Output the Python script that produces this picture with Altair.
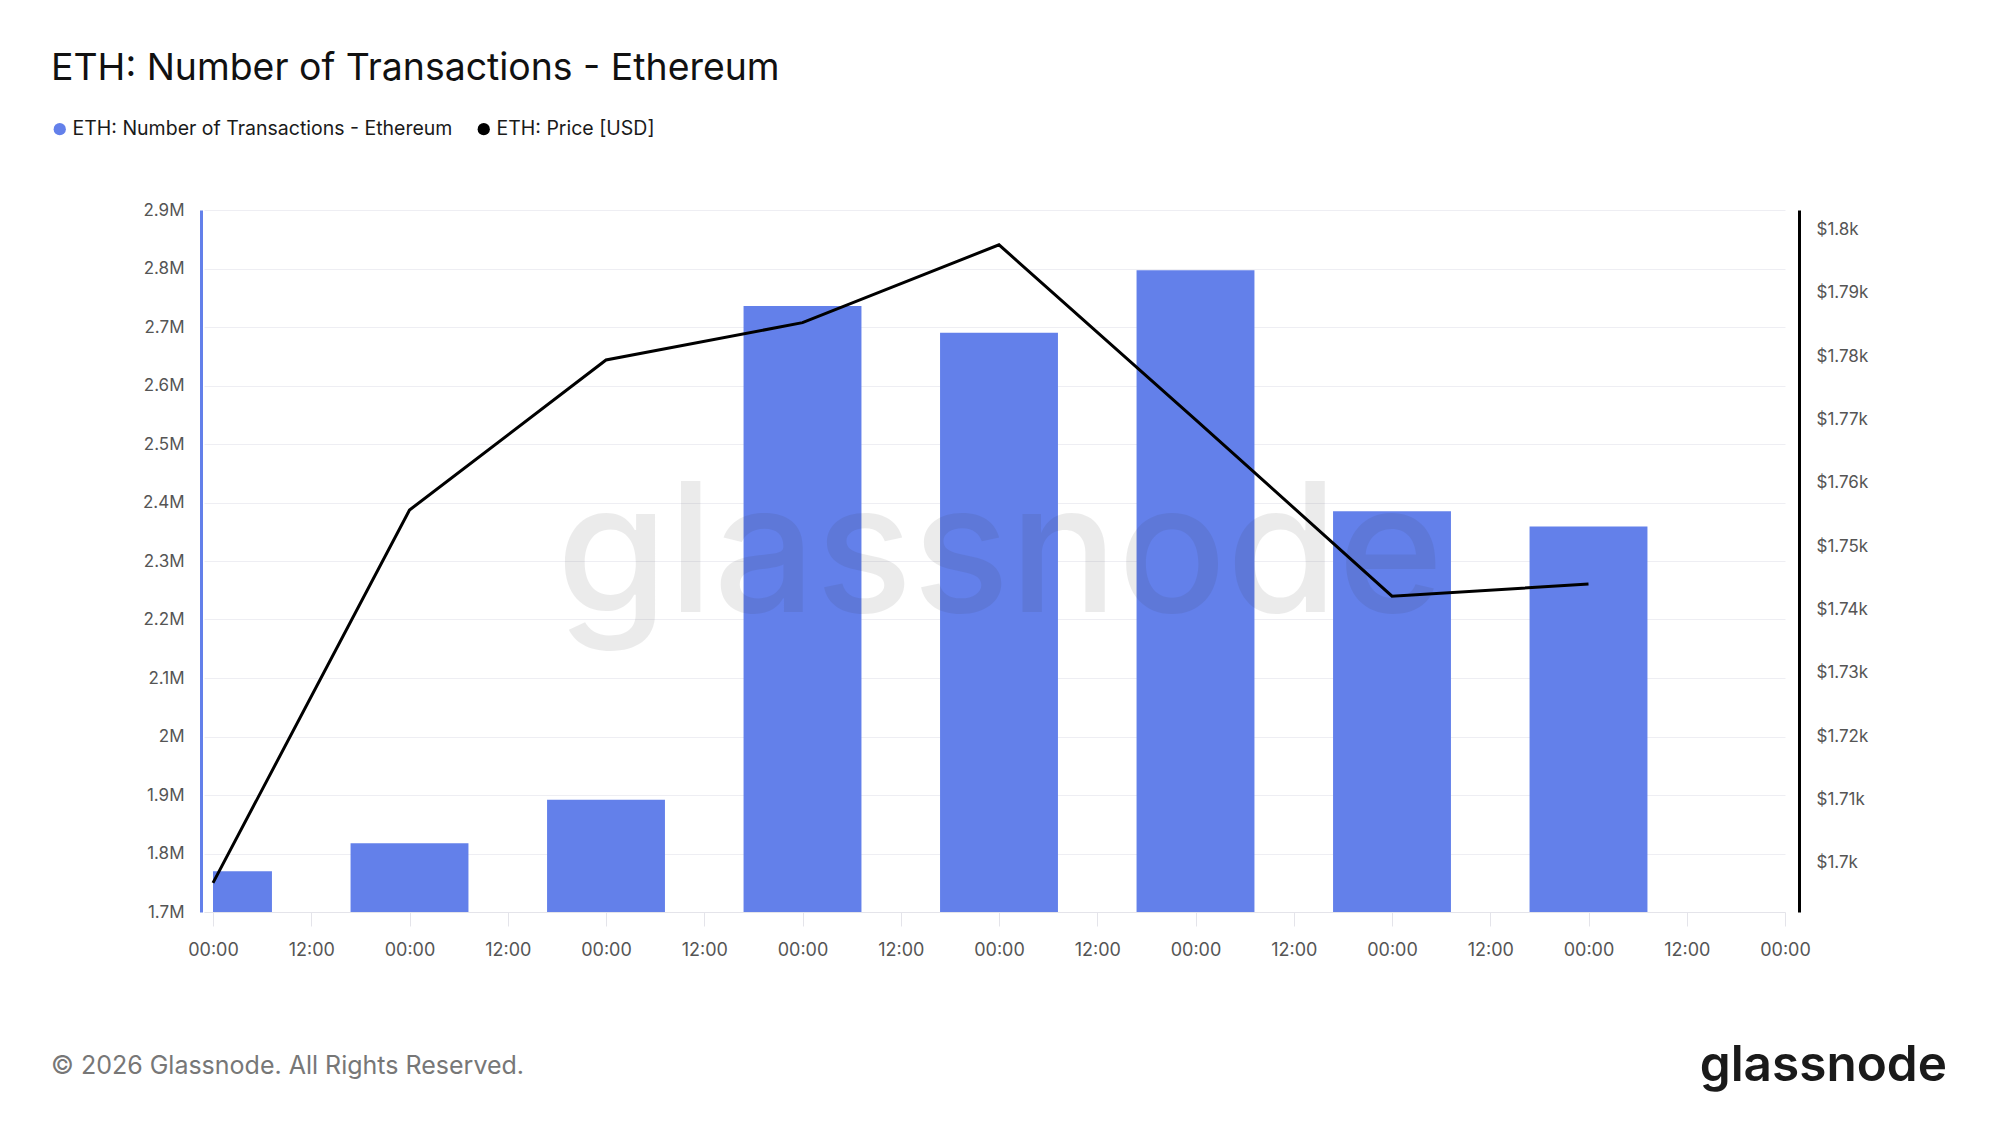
import altair as alt
import pandas as pd

# ---- data ----
dates = ["2026-02-24", "2026-02-25", "2026-02-26", "2026-02-27",
         "2026-02-28", "2026-03-01", "2026-03-02", "2026-03-03"]
transactions = [1769700, 1817700, 1891800, 2735800, 2690000, 2797000, 2385000, 2359000]
price_usd = [1696.8, 1755.7, 1779.4, 1785.3, 1797.6, 1770.0, 1742.1, 1744.0]

series_tx = "ETH: Number of Transactions - Ethereum"
series_px = "ETH: Price [USD]"
title_text = "ETH: Number of Transactions - Ethereum"
footer_text = "\u00a9 2026 Glassnode. All Rights Reserved."
brand_text = "glassnode"

left_ticks = [1700000 + 100000 * i for i in range(13)]
right_ticks = [1700 + 10 * i for i in range(11)]
LEFT_MIN, LEFT_MAX = 1700000, 2900000

BLUE = "#6380EA"
FONT = "Inter"

iso = [d + "T00:00:00Z" for d in dates]
df_tx = pd.DataFrame({"date": iso, "tx": transactions, "series": series_tx})
df_px = pd.DataFrame({"date": iso, "price": price_usd, "series": series_px})

t0 = pd.Timestamp(iso[0])
t0_ms = int(t0.value // 10**6)
dom_start = int((t0 - pd.Timedelta(hours=1.1)).value // 10**6)
dom_end = int((t0 + pd.Timedelta(days=8)).value // 10**6)
x_ticks = [int((t0 + pd.Timedelta(hours=12 * i)).value // 10**6) for i in range(17)]
HALF = 7.2 * 3600 * 1000

xscale = alt.Scale(type="utc", domain=[dom_start, dom_end], padding=0, nice=False)

x_axis = alt.Axis(values=x_ticks, labelExpr="utcFormat(datum.value, '%H:%M')", title=None,
                  grid=False, domain=True, domainColor="#e4e4ea", domainWidth=1,
                  ticks=True, tickColor="#e4e4ea", tickSize=14, tickWidth=1,
                  labelPadding=15, labelFont=FONT, labelFontSize=18,
                  labelColor="#555555", labelAngle=0, labelFlush=False)

bars = alt.Chart(df_tx).transform_calculate(
    start=f"max(toDate(datum.date) - {HALF}, {t0_ms})",
    end=f"toDate(datum.date) + {HALF}",
).mark_bar(clip=True, orient="vertical").encode(
    x=alt.X("start:T", scale=xscale, axis=x_axis),
    x2="end:T",
    y=alt.Y("tx:Q", scale=alt.Scale(domain=[LEFT_MIN, LEFT_MAX], nice=False, zero=False),
            axis=alt.Axis(values=left_ticks, title=None, orient="left",
                          labelExpr="format(datum.value/1e6, '.1~f') + 'M'",
                          grid=True, gridColor="#eeeef3", gridWidth=1,
                          domain=True, domainColor=BLUE, domainWidth=3, offset=3,
                          ticks=False, labelPadding=17, labelFont=FONT,
                          labelFontSize=17, labelColor="#555555")),
    y2=alt.datum(LEFT_MIN),
    color=alt.Color("series:N",
                    scale=alt.Scale(domain=[series_tx, series_px], range=[BLUE, "#000000"]),
                    legend=alt.Legend(title=None, orient="none", direction="horizontal",
                                      legendX=-154, legendY=-91, symbolType="circle",
                                      symbolSize=150, symbolStrokeWidth=0,
                                      labelFont=FONT, labelFontSize=19.5,
                                      labelColor="#1a1a1a", labelOffset=3,
                                      columnPadding=21, labelLimit=600)),
)

line = alt.Chart(df_px).mark_line(color="#000000", strokeWidth=3).encode(
    x=alt.X("date:T", scale=xscale, axis=x_axis),
    y=alt.Y("price:Q", scale=alt.Scale(domain=[1692.2, 1803.1], nice=False, zero=False),
            axis=alt.Axis(values=right_ticks, title=None, orient="right",
                          labelExpr="'$' + format(datum.value/1000, '.3~f') + 'k'",
                          grid=False, domain=True, domainColor="#000000",
                          domainWidth=3, offset=14, ticks=False, labelPadding=17,
                          labelFont=FONT, labelFontSize=17, labelColor="#555555")),
)

def label(text, x, y, **kw):
    return alt.Chart(pd.DataFrame({"t": [text]})).mark_text(**kw).encode(
        x=alt.value(x), y=alt.value(y), text="t:N")

watermark = label(brand_text, 796, 402, font=FONT, fontSize=180, fontWeight=500,
                  color="#303030", opacity=0.09, align="center", baseline="alphabetic")
title = label(title_text, -153, -130, font=FONT, fontSize=37.4, color="#111111",
              align="left", baseline="alphabetic")
footer = label(footer_text, -153, 864, font=FONT, fontSize=25, color="#777777",
               align="left", baseline="alphabetic")
brand = label(brand_text, 1743, 871, font=FONT, fontSize=49.5, fontWeight=600,
              color="#1a1a1a", align="right", baseline="alphabetic")

chart = alt.layer(bars, watermark, line, title, footer, brand).resolve_scale(
    y="independent", color="shared"
).properties(
    width=1581, height=702,
    padding={"left": 204, "top": 210, "right": 214, "bottom": 213},
    autosize=alt.AutoSizeParams(type="none"),
    background="white",
).configure_view(stroke=None)

chart.save("out.html", embed_options={"renderer": "svg", "actions": False})
